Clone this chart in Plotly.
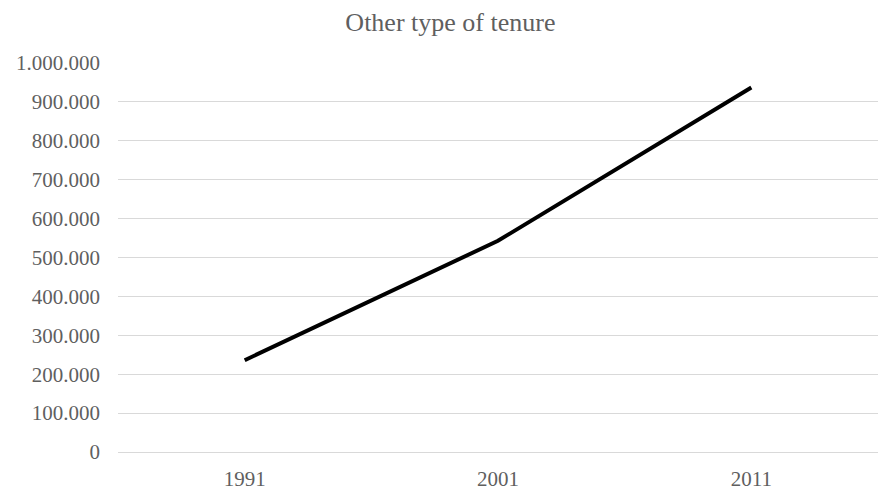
import plotly.graph_objects as go

years = ["1991", "2001", "2011"]
values = [236000, 543000, 937000]
y_ticks = [0, 100000, 200000, 300000, 400000, 500000, 600000, 700000, 800000, 900000, 1000000]

W, H = 878, 491
fig = go.Figure()
fig.add_trace(go.Scatter(
    x=years, y=values, mode="lines",
    line=dict(color="#000000", width=4, shape="linear"),
    hoverinfo="skip", showlegend=False,
))

font_family = "Liberation Serif, Times New Roman, serif"
fig.update_layout(
    width=W, height=H,
    autosize=False,
    paper_bgcolor="white", plot_bgcolor="white",
    separators=",.",
    margin=dict(l=118, r=0, t=63, b=36, pad=0),
    title=dict(text="Other type of tenure", x=0.513, xanchor="center",
               y=1 - 22 / H, yanchor="middle", yref="container",
               font=dict(family=font_family, size=26, color="#5f5f5f")),
    font=dict(family=font_family, size=21, color="#5f5f5f"),
    xaxis=dict(type="category", range=[-0.5, 2.5], showgrid=False, zeroline=False,
               showline=False, ticks="", ticklabelstandoff=12,
               tickfont=dict(family=font_family, size=21, color="#5f5f5f")),
    yaxis=dict(range=[0, 1000000], tickvals=y_ticks, tickformat=",d",
               showgrid=True, gridcolor="#d9d9d9", gridwidth=1,
               zeroline=True, zerolinecolor="#d9d9d9", zerolinewidth=1,
               showline=False, ticks="", ticklabelstandoff=17,
               tickfont=dict(family=font_family, size=21, color="#5f5f5f")),
)

fig.write_html("out.html",
               config={"displayModeBar": False, "staticPlot": True},
               post_script="document.body.style.margin='0';document.body.style.overflow='hidden';")
